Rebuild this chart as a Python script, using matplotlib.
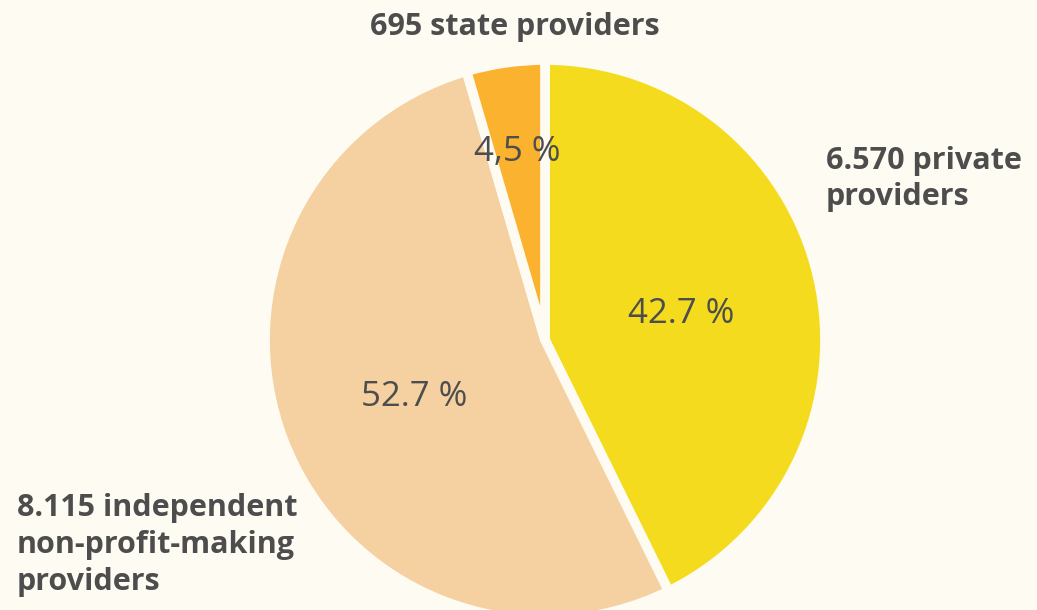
import numpy as np
import matplotlib.pyplot as plt

# =========================
# Data
# =========================
categories = ["6.570 private\nproviders",
              "8.115 independent\nnon-profit-making\nproviders",
              "695 state providers"]
providers = [6570, 8115, 695]
pct_labels = ["42.7 %", "52.7 %", "4,5 %"]
colors = ["#F4DB1E", "#F5D1A1", "#FBB22F"]

bg = "#FEFBF3"
txt = "#4D4D4D"

plt.rcParams["font.family"] = ["Open Sans", "DejaVu Sans"]

fig = plt.figure(figsize=(10.37, 6.10), dpi=100, facecolor=bg)
ax = fig.add_axes([0, 0, 1, 1])
ax.set_facecolor(bg)

cx, cy, r = 545, 270, 280
wedges, _ = ax.pie(
    providers,
    colors=colors,
    startangle=90,
    counterclock=False,
    center=(cx, cy),
    radius=r,
    wedgeprops=dict(edgecolor=bg, linewidth=7, joinstyle="round"),
    frame=True,
)
ax.set_xlim(0, 1037)
ax.set_ylim(0, 610)
ax.set_aspect("equal")
ax.axis("off")

# percentage labels inside the slices
dists = [0.5, 0.5, 0.7]
for w, lab, d in zip(wedges, pct_labels, dists):
    ang = np.deg2rad((w.theta1 + w.theta2) / 2)
    ax.text(cx + d * r * np.cos(ang), cy + d * r * np.sin(ang) - 6, lab,
            ha="center", va="center", fontsize=25, color=txt)

# category labels outside
ax.text(826, 610 - 179, categories[0], ha="left", va="center",
        fontsize=22, fontweight="bold", color=txt, linespacing=1.3)
ax.text(17, 610 - 545, categories[1], ha="left", va="center",
        fontsize=22, fontweight="bold", color=txt, linespacing=1.3)
ax.text(515, 610 - 27, categories[2], ha="center", va="center",
        fontsize=22, fontweight="bold", color=txt)

fig.savefig("out.png", dpi=100, facecolor=bg)
